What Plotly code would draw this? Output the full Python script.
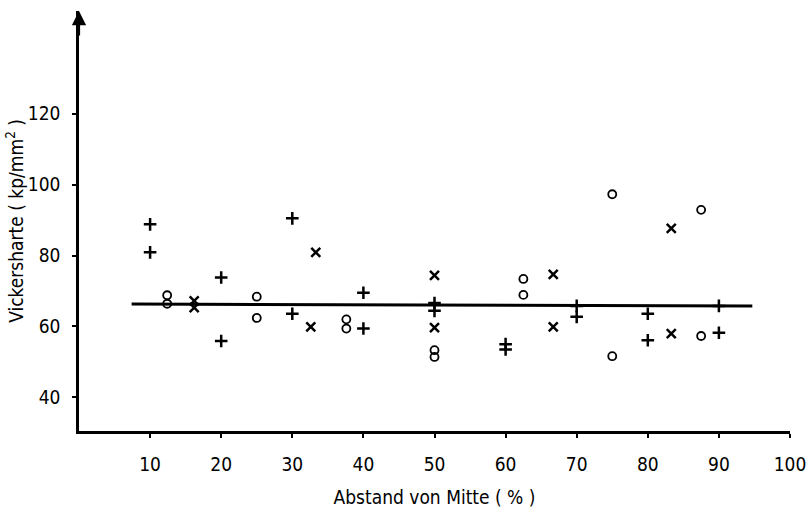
import plotly.graph_objects as go

# Vickers hardness across the section, three measurement series
plus_x = [10, 10, 20, 20, 30, 30, 40, 40, 50, 50, 60, 60, 70, 70, 80, 80, 90, 90]
plus_y = [88.8, 80.9, 73.8, 55.9, 90.5, 63.6, 69.5, 59.4, 66.6, 64.4,
          55.0, 53.5, 65.8, 62.7, 63.6, 56.1, 65.8, 58.2]

cross_x = [16.2, 16.2, 33.3, 32.6, 50, 50, 66.7, 66.7, 83.3, 83.3]
cross_y = [67.2, 65.3, 80.9, 59.9, 74.4, 59.7, 74.7, 59.9, 87.7, 58.0]

ring_x = [12.4, 12.4, 25, 25, 37.6, 37.6, 50, 50, 62.5, 62.5, 75, 75, 87.5, 87.5]
ring_y = [68.8, 66.4, 68.4, 62.4, 62.0, 59.4, 53.3, 51.4, 73.4, 68.9,
          97.3, 51.6, 92.9, 57.3]

# mean hardness line
mean_x = [7.4, 94.7]
mean_y = [66.3, 65.8]

x_ticks = [10, 20, 30, 40, 50, 60, 70, 80, 90, 100]
y_ticks = [40, 60, 80, 100, 120]

FONT = "DejaVu Sans Condensed, Liberation Sans Narrow, DejaVu Sans, sans-serif"
INK = "#000000"

fig = go.Figure()

fig.add_trace(go.Scatter(
    x=mean_x, y=mean_y, mode="lines",
    line=dict(color=INK, width=3), hoverinfo="skip"))

fig.add_trace(go.Scatter(
    x=plus_x, y=plus_y, mode="markers",
    marker=dict(symbol="cross-thin", size=9, color=INK,
                line=dict(color=INK, width=2.5))))

fig.add_trace(go.Scatter(
    x=cross_x, y=cross_y, mode="markers",
    marker=dict(symbol="x-thin", size=9, color=INK,
                line=dict(color=INK, width=2.5))))

fig.add_trace(go.Scatter(
    x=ring_x, y=ring_y, mode="markers",
    marker=dict(symbol="circle-open", size=8, color=INK,
                line=dict(color=INK, width=1.8))))

# arrow head at the top of the ordinate
fig.add_annotation(
    x=0, y=149, xref="x", yref="y", ax=0, ay=26, axref="pixel", ayref="pixel",
    showarrow=True, arrowhead=2, arrowsize=1.3, arrowwidth=2.2,
    arrowcolor=INK, text="")

fig.update_layout(
    width=810, height=508,
    margin=dict(l=79, r=20, t=11, b=77),
    paper_bgcolor="white", plot_bgcolor="white",
    showlegend=False,
    font=dict(family=FONT, size=19, color=INK),
    xaxis=dict(
        range=[0, 100], tickvals=x_ticks, automargin=False,
        showgrid=False, zeroline=False,
        showline=True, linecolor=INK, linewidth=2.5,
        ticks="outside", ticklen=4, tickwidth=2, tickcolor=INK,
        ticklabelstandoff=10,
        tickfont=dict(family=FONT, size=19, color=INK),
        title=dict(text="Abstand von Mitte ( % )", standoff=21,
                   font=dict(family=FONT, size=19, color=INK)),
    ),
    yaxis=dict(
        range=[30.5, 149], tickvals=y_ticks, automargin=False,
        showgrid=False, zeroline=False,
        showline=True, linecolor=INK, linewidth=2.5,
        ticks="outside", ticklen=4, tickwidth=2, tickcolor=INK,
        ticklabelstandoff=8,
        tickfont=dict(family=FONT, size=19, color=INK),
        title=dict(text="Vickersharte ( kp/mm<sup>2</sup> )", standoff=0,
                   font=dict(family=FONT, size=19, color=INK)),
    ),
)

fig.write_html("out.html")
